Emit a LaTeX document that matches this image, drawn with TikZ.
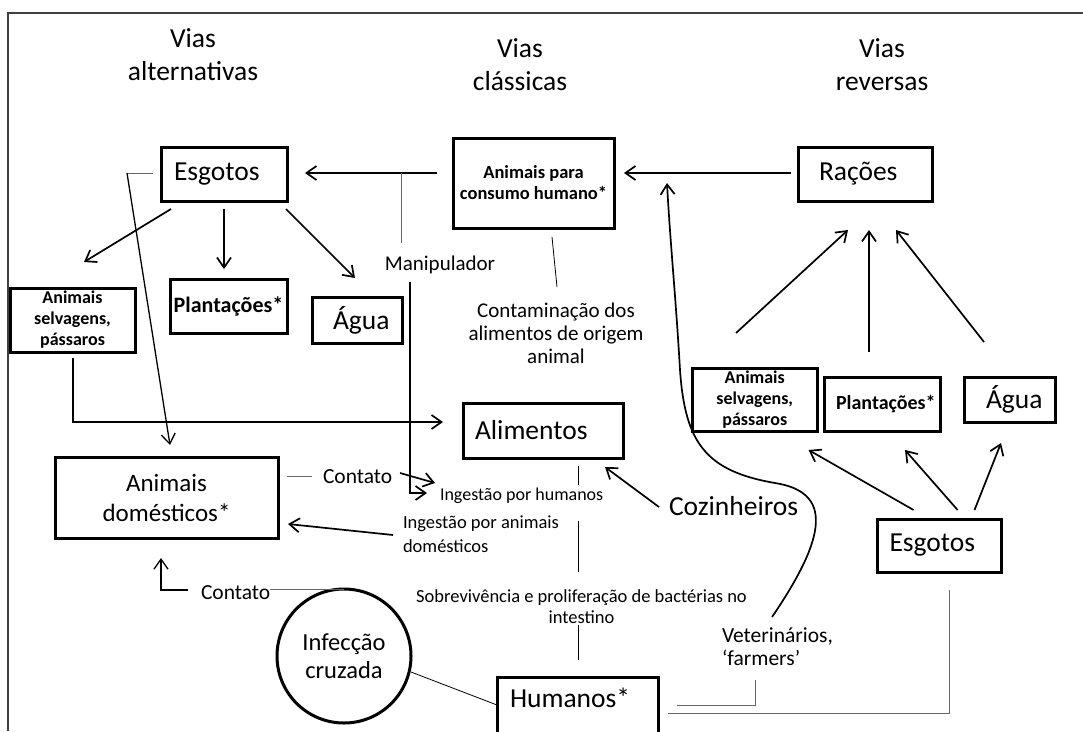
\documentclass[tikz,border=0pt]{standalone}
\usepackage{fontspec}
\setmainfont{Carlito}
\usetikzlibrary{arrows.meta}
\begin{document}
\begin{tikzpicture}[x=1pt,y=-1pt,
  box/.style={draw=black, line width=3pt, inner sep=0pt, outer sep=0pt},
  big/.style={font=\fontsize{27.5}{33}\selectfont},
  txt/.style={inner sep=0pt, outer sep=0pt},
  arr/.style={line width=1.7pt, -{Straight Barb[length=10pt,width=14pt]}},
  arrthin/.style={line width=1.3pt, -{Straight Barb[length=10pt,width=14pt]}},
  thinl/.style={line width=1pt, draw=black!60},
  thinb/.style={line width=0.8pt, draw=black},
]
\useasboundingbox (0,0) rectangle (1083,731);
\fill[white] (0,0) rectangle (1083,731);
% frame
\draw[line width=1.5pt, black!75] (8,731) -- (8,13) -- (1083,13);

% titles (base = last line)
\node[txt, big, align=center, anchor=base] (altT) at (193,80) {Vias\\alternativas};
\node[txt, big, align=center, anchor=base] (clasT) at (520,90) {Vias\\clássicas};
\node[txt, big, align=center, anchor=base] (revT) at (882,90) {Vias\\reversas};

% boxes
\node[box, big, text width=100pt, inner xsep=13pt, align=left, minimum height=54pt] (esgL) at (224,174) {Esgotos};
\node[box, font=\bfseries\fontsize{18.5}{21}\selectfont, minimum width=161pt, minimum height=90pt, align=center] (animcons) at (533.5,183) {Animais para\\consumo humano*};
\node[box, big, text width=92pt, inner xsep=21pt, align=left, minimum height=54pt] (racoes) at (865,174) {Rações};
\node[box, font=\bfseries\fontsize{18}{21}\selectfont, minimum width=125pt, minimum height=64pt, align=center] (selvL) at (72.5,320) {Animais\\selvagens,\\pássaros};
\node[box, font=\bfseries\fontsize{22}{26}\selectfont, minimum width=117pt, minimum height=54pt] (plantL) at (228.5,306) {Plantações*};
\node[box, big, text width=48pt, inner xsep=21pt, align=left, minimum height=46pt] (aguaL) at (357,320) {Água};
\node[box, big, text width=136pt, inner xsep=12pt, align=left, minimum height=55pt] (alim) at (543,430.5) {Alimentos};
\node[box, font=\fontsize{25}{30}\selectfont, minimum width=223pt, minimum height=81pt, align=center] (domest) at (166.5,497.5) {Animais\\domésticos*};
\node[draw, circle, line width=3pt, minimum size=134pt, inner sep=0pt, outer sep=0pt, align=center, font=\fontsize{24.5}{28}\selectfont] (circ) at (344,656) {Infecção\\cruzada};
\node[box, big, text width=135pt, inner xsep=13pt, align=left, minimum height=70pt, text depth=27.7pt] (humanos) at (577.5,712) {Humanos*};
\node[box, font=\bfseries\fontsize{18}{21}\selectfont, minimum width=124.5pt, minimum height=63pt, align=center] (selvR) at (754.75,399.5) {Animais\\selvagens,\\pássaros};
\node[box, font=\bfseries\fontsize{20}{24}\selectfont, text width=92pt, inner xsep=12pt, align=left, minimum height=54pt] (plantR) at (882,404) {Plantações*};
\node[box, big, text width=47.5pt, inner xsep=21.5pt, align=left, minimum height=45pt] (aguaR) at (1009.75,399.5) {Água};
\node[box, big, text width=99pt, inner xsep=12.5pt, align=left, minimum height=53pt] (esgR) at (939,545.5) {Esgotos};

% free text
\node[txt, font=\fontsize{21}{25}\selectfont, anchor=base] (manip) at (440,270) {Manipulador};
\node[txt, font=\fontsize{21}{23}\selectfont, align=center, anchor=base] (contam) at (556,363) {Contaminação dos\\alimentos de origem\\animal};
\node[txt, font=\fontsize{21.5}{25}\selectfont, anchor=base west] (contato1) at (323,483) {Contato};
\node[txt, font=\fontsize{18}{22}\selectfont, anchor=base west] (ingH) at (440,500) {Ingestão por humanos};
\node[txt, font=\fontsize{18.5}{24}\selectfont, align=left, anchor=base west] (ingA) at (403,552) {Ingestão por animais\\domésticos};
\node[txt, big, anchor=base west] (cozin) at (669,515) {Cozinheiros};
\node[txt, font=\fontsize{18.5}{21}\selectfont, align=center, anchor=base] (sobrev) at (581.5,623) {Sobrevivência e proliferação de bactérias no\\intestino};
\node[txt, font=\fontsize{21.5}{25}\selectfont, anchor=base west] (contato2) at (201,599) {Contato};
\node[txt, font=\fontsize{21.5}{23}\selectfont, align=left, anchor=base west] (veter) at (722,665) {Veterinários,\\‘farmers’};

% coordinates for free ends / bends
\coordinate (stubA) at (153,173);
\coordinate (stubB) at (127,173);
\coordinate (mTop) at (401,173);
\coordinate (mBot) at (401,243);
\coordinate (vTop) at (410,282);
\coordinate (vBend) at (410,493);
\coordinate (sBend) at (73,422);
\coordinate (cBend) at (161,590);
\coordinate (eBend) at (949,713);
\coordinate (fBend) at (755,705);

% classic path
\draw[arr] (animcons.west |- 0,173) ++(-16,0) -- (305,173);
\draw[arr] (racoes.west |- 0,173) ++(-7,0) -- (624,173);
\draw[thinl] (mTop) -- (mBot);
\draw[arr] (vTop) -- (vBend) -- (427,493);

% alternative
\draw[arr] (171,209) -- (84,262);
\draw[arr] (224,209) -- (224,269);
\draw[arr] (286,209) -- (355,278);
\draw[thinl] (stubA) -- (stubB);
\draw[arrthin] (stubB) -- (170,445);
\draw[arr] (73,358) -- (sBend) -- (443,422);
\draw[thinb] (552,237) -- (557,287);
\draw[thinb] (578,466) -- (578,485);
\draw[thinb] (578,521) -- (578,572);
\draw[thinb] (578,625) -- (578,660);
\draw[thinl] (287,476) -- (312,476);
\draw[arr] (400,473) -- (435,483);
\draw[arr] (393,535) -- (288,524);
\draw[arrthin] (188,590) -- (cBend) -- (161,558);
\draw[thinl] (270,589) -- (circ.north);
\draw[thinb] (411,672) -- (497,705);
\draw[arr] (659,507) -- (605,467);

% reverse
\draw[arr] (772,617) .. controls (828,535) and (832,492) .. (775,483) .. controls (705,471) and (685,442) .. (680,370) .. controls (676,300) and (670,240) .. (667,183);
\draw[arr] (736,333) -- (848,230);
\draw[arr] (869,352) -- (869,230);
\draw[arr] (984,342) -- (896,230);
\draw[arr] (913.6,510) -- (808.6,450);
\draw[arr] (957.6,510) -- (905,450);
\draw[arr] (974.5,510) -- (1001,443);
\draw[thinl] (949,590) -- (eBend) -- (668,713);
\draw[thinl] (755,680) -- (fBend) -- (677,705);
\end{tikzpicture}
\end{document}
